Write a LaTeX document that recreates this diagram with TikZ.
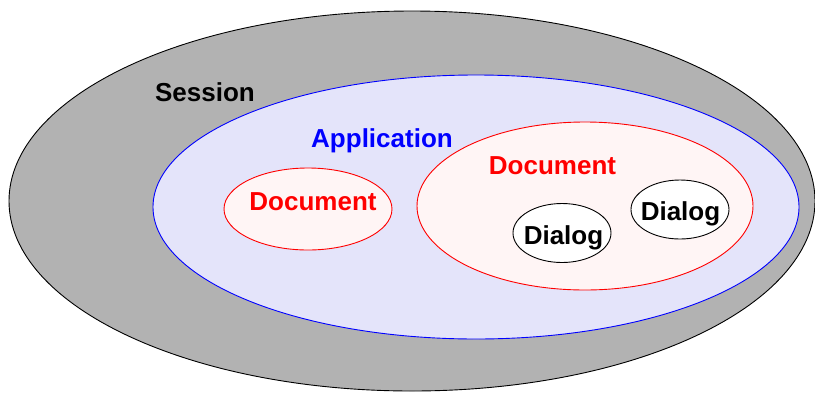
\documentclass[tikz,border=0pt]{standalone}
\usepackage{fontspec}
\setmainfont{Liberation Sans}
\usetikzlibrary{shapes.geometric}
\definecolor{sessiongray}{RGB}{178,178,178}
\definecolor{appfill}{RGB}{228,228,250}
\definecolor{docfill}{RGB}{255,245,245}
\tikzset{
  region/.style={ellipse, inner sep=0pt, line width=0.9pt},
  sessionbox/.style={region, draw=black, fill=sessiongray},
  appbox/.style={region, draw=blue, fill=appfill},
  docbox/.style={region, draw=red, fill=docfill},
  dialogbox/.style={region, draw=black, fill=white},
  lbl/.style={anchor=base, inner sep=0pt, font=\fontsize{26}{30}\selectfont\bfseries},
}
\begin{document}
\begin{tikzpicture}[x=1pt,y=-1pt]
\useasboundingbox (0,0) rectangle (815,392);
\clip (0,0) rectangle (815,392);
\node[sessionbox, minimum width=806pt, minimum height=380pt] (session) at (412,201) {};
\node[appbox, minimum width=646pt, minimum height=264pt] (app) at (476,207) {};
\node[docbox, minimum width=168pt, minimum height=82pt] (doc1) at (308,209) {};
\node[docbox, minimum width=336pt, minimum height=168pt] (doc2) at (585,206) {};
\node[dialogbox, minimum width=98pt, minimum height=59pt] (dlg1) at (562,233) {};
\node[dialogbox, minimum width=98pt, minimum height=59pt] (dlg2) at (680,209.5) {};
\node[lbl, text=black] (tsession) at (205,101) {Session};
\node[lbl, text=blue] (tapp) at (382,147) {Application};
\node[lbl, text=red] (tdoc1) at (313,210) {Document};
\node[lbl, text=red] (tdoc2) at (552.5,174) {Document};
\node[lbl, text=black] (tdlg1) at (563.5,244) {Dialog};
\node[lbl, text=black] (tdlg2) at (680.5,220) {Dialog};
\end{tikzpicture}
\end{document}
